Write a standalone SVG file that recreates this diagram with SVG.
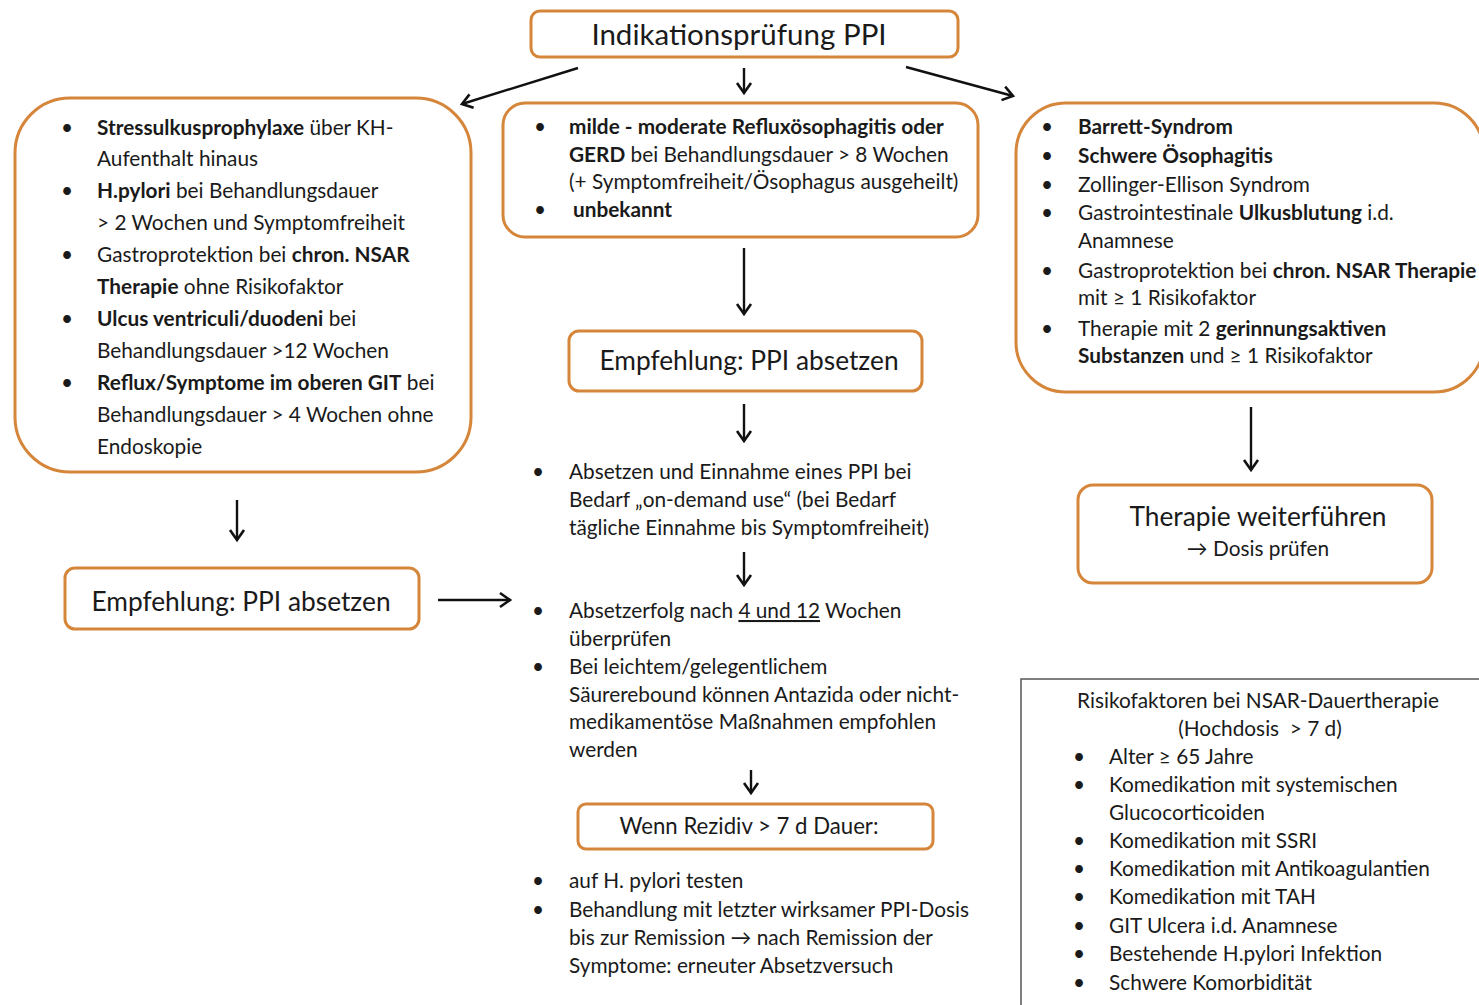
<svg xmlns="http://www.w3.org/2000/svg" width="1479" height="1005" viewBox="0 0 1479 1005">
  <defs>
    <marker id="chev" markerUnits="userSpaceOnUse" markerWidth="16" markerHeight="20" viewBox="-14 -10 16 20" refX="0" refY="0" orient="auto" overflow="visible">
      <path d="M-10,-7 L0,0 L-10,7" fill="none" stroke="#111" stroke-width="2.6" stroke-linejoin="miter"/>
    </marker>
  </defs>
  <style>
    .box { fill: #fff; stroke: #D5863A; stroke-width: 3; }
    .frame { fill: #fff; stroke: #555; stroke-width: 1.5; }
    text { font-family: Lato, "Liberation Sans", sans-serif; fill: #1a1a1a; font-size: 20.8px; }
    .b { font-weight: bold; }
    .t1 { font-size: 29.5px; }
    .t2 { font-size: 26.3px; }
    .t3 { font-size: 22.2px; }
    .mid { text-anchor: middle; }
    .con line { stroke: #111; stroke-width: 2.4; marker-end: url(#chev); }
  </style>
  <rect width="1479" height="1005" fill="#fff"/>

  <!-- connectors -->
  <g class="con" id="connectors">
    <line x1="578" y1="68" x2="462" y2="104"/>
    <line x1="744" y1="68" x2="744" y2="93"/>
    <line x1="906" y1="67" x2="1013" y2="96"/>
    <line x1="744" y1="248" x2="744" y2="314"/>
    <line x1="744" y1="404" x2="744" y2="441"/>
    <line x1="744" y1="552" x2="744" y2="585"/>
    <line x1="751" y1="770" x2="751" y2="793"/>
    <line x1="237" y1="500" x2="237" y2="540"/>
    <line x1="438" y1="600" x2="510" y2="600"/>
    <line x1="1251" y1="407" x2="1251" y2="470"/>
  </g>

  <!-- start -->
  <g id="node-start">
    <rect class="box" x="531" y="11" width="427" height="46" rx="9"/>
    <text class="t1 mid" x="739" y="45">Indikationsprüfung PPI</text>
  </g>

  <!-- left branch: stop -->
  <g id="node-left">
    <rect class="box" x="15" y="98" width="456" height="374" rx="55"/>
    <text x="61" y="135">•</text><text x="97" y="135"><tspan class="b">Stressulkusprophylaxe</tspan> über KH-</text>
    <text x="97" y="166">Aufenthalt hinaus</text>
    <text x="61" y="198">•</text><text x="97" y="198"><tspan class="b">H.pylori</tspan> bei Behandlungsdauer</text>
    <text x="97" y="230">&gt; 2 Wochen und Symptomfreiheit</text>
    <text x="61" y="262">•</text><text x="97" y="262">Gastroprotektion bei <tspan class="b">chron. NSAR</tspan></text>
    <text x="97" y="294"><tspan class="b">Therapie</tspan> ohne Risikofaktor</text>
    <text x="61" y="326">•</text><text x="97" y="326"><tspan class="b">Ulcus ventriculi/duodeni</tspan> bei</text>
    <text x="97" y="358">Behandlungsdauer &gt;12 Wochen</text>
    <text x="61" y="390">•</text><text x="97" y="390"><tspan class="b">Reflux/Symptome im oberen GIT</tspan> bei</text>
    <text x="97" y="422">Behandlungsdauer &gt; 4 Wochen ohne</text>
    <text x="97" y="454">Endoskopie</text>
  </g>

  <g id="node-left-stop">
    <rect class="box" x="65" y="568" width="354" height="61" rx="10"/>
    <text class="t2 mid" x="241" y="611">Empfehlung: PPI absetzen</text>
  </g>

  <!-- middle branch -->
  <g id="node-mid">
    <rect class="box" x="503" y="103" width="475" height="134" rx="22"/>
    <text x="534" y="134">•</text><text x="569" y="134" class="b">milde - moderate Refluxösophagitis oder</text>
    <text x="569" y="162"><tspan class="b">GERD</tspan> bei Behandlungsdauer &gt; 8 Wochen</text>
    <text x="569" y="189">(+ Symptomfreiheit/Ösophagus ausgeheilt)</text>
    <text x="534" y="217">•</text><text x="573" y="217" class="b">unbekannt</text>
  </g>

  <g id="node-mid-stop">
    <rect class="box" x="569" y="331" width="353" height="60" rx="10"/>
    <text class="t2 mid" x="749" y="370">Empfehlung: PPI absetzen</text>
  </g>

  <g id="node-ondemand">
    <text x="532" y="479">•</text><text x="569" y="479">Absetzen und Einnahme eines PPI bei</text>
    <text x="569" y="507">Bedarf „on-demand use“ (bei Bedarf</text>
    <text x="569" y="535">tägliche Einnahme bis Symptomfreiheit)</text>
  </g>

  <g id="node-check">
    <text x="532" y="618">•</text><text x="569" y="618">Absetzerfolg nach <tspan text-decoration="underline">4 und 12</tspan> Wochen</text>
    <text x="569" y="646">überprüfen</text>
    <text x="532" y="674">•</text><text x="569" y="674">Bei leichtem/gelegentlichem</text>
    <text x="569" y="702">Säurerebound können Antazida oder nicht-</text>
    <text x="569" y="729">medikamentöse Maßnahmen empfohlen</text>
    <text x="569" y="757">werden</text>
  </g>

  <g id="node-relapse">
    <rect class="box" x="578" y="804" width="355" height="45" rx="8"/>
    <text class="t3 mid" x="749" y="834">Wenn Rezidiv &gt; 7 d Dauer:</text>
  </g>

  <g id="node-relapse-steps">
    <text x="532" y="888">•</text><text x="569" y="888">auf H. pylori testen</text>
    <text x="532" y="917">•</text><text x="569" y="917">Behandlung mit letzter wirksamer PPI-Dosis</text>
    <text x="569" y="945">bis zur Remission → nach Remission der</text>
    <text x="569" y="973">Symptome: erneuter Absetzversuch</text>
  </g>

  <!-- right branch: continue -->
  <g id="node-right">
    <rect class="box" x="1016" y="103" width="468" height="289" rx="50"/>
    <text x="1041" y="134">•</text><text x="1078" y="134" class="b">Barrett-Syndrom</text>
    <text x="1041" y="163">•</text><text x="1078" y="163" class="b">Schwere Ösophagitis</text>
    <text x="1041" y="192">•</text><text x="1078" y="192">Zollinger-Ellison Syndrom</text>
    <text x="1041" y="220">•</text><text x="1078" y="220">Gastrointestinale <tspan class="b">Ulkusblutung</tspan> i.d.</text>
    <text x="1078" y="248">Anamnese</text>
    <text x="1041" y="278">•</text><text x="1078" y="278">Gastroprotektion bei <tspan class="b">chron. NSAR Therapie</tspan></text>
    <text x="1078" y="305">mit ≥ 1 Risikofaktor</text>
    <text x="1041" y="336">•</text><text x="1078" y="336">Therapie mit 2 <tspan class="b">gerinnungsaktiven</tspan></text>
    <text x="1078" y="363"><tspan class="b">Substanzen</tspan> und ≥ 1 Risikofaktor</text>
  </g>

  <g id="node-continue">
    <rect class="box" x="1078" y="485" width="354" height="98" rx="15"/>
    <text class="t2 mid" x="1258" y="526">Therapie weiterführen</text>
    <text class="mid" x="1258" y="556">→ Dosis prüfen</text>
  </g>

  <!-- risk factor legend -->
  <g id="node-risk">
    <rect class="frame" x="1021" y="679" width="470" height="340"/>
    <text class="mid" x="1258" y="708">Risikofaktoren bei NSAR-Dauertherapie</text>
    <text class="mid" x="1260" y="736">(Hochdosis &#160;&gt; 7 d)</text>
    <text x="1073" y="764">•</text><text x="1109" y="764">Alter ≥ 65 Jahre</text>
    <text x="1073" y="792">•</text><text x="1109" y="792">Komedikation mit systemischen</text>
    <text x="1109" y="820">Glucocorticoiden</text>
    <text x="1073" y="848">•</text><text x="1109" y="848">Komedikation mit SSRI</text>
    <text x="1073" y="876">•</text><text x="1109" y="876">Komedikation mit Antikoagulantien</text>
    <text x="1073" y="904">•</text><text x="1109" y="904">Komedikation mit TAH</text>
    <text x="1073" y="933">•</text><text x="1109" y="933">GIT Ulcera i.d. Anamnese</text>
    <text x="1073" y="961">•</text><text x="1109" y="961">Bestehende H.pylori Infektion</text>
    <text x="1073" y="990">•</text><text x="1109" y="990">Schwere Komorbidität</text>
  </g>
</svg>
